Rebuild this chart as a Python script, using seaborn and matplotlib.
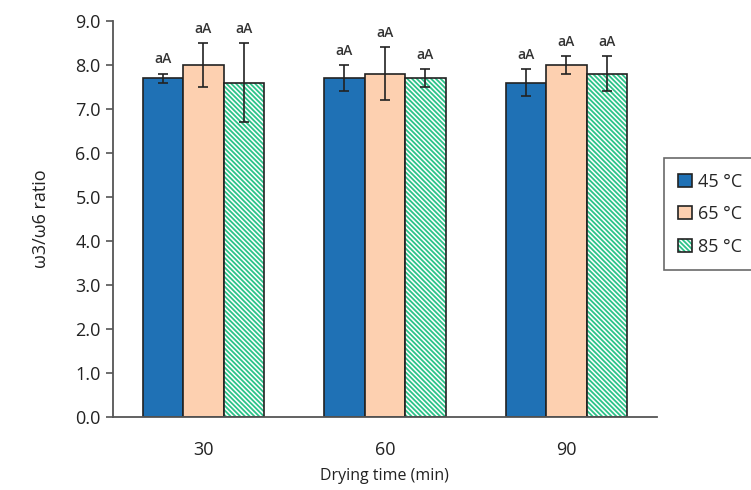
import pandas as pd
import numpy as np
import matplotlib
matplotlib.use("Agg")
import matplotlib.pyplot as plt
from matplotlib.patches import Rectangle
from matplotlib.legend_handler import HandlerTuple
from matplotlib.ticker import FormatStrFormatter
import seaborn as sns

# data
times = ["30", "60", "90"]
temps = ["45 °C", "65 °C", "85 °C"]
ratio_45 = [7.7, 7.7, 7.6]
ratio_65 = [8.0, 7.8, 8.0]
ratio_85 = [7.6, 7.7, 7.8]
sd_45 = [0.1, 0.3, 0.3]
sd_65 = [0.5, 0.6, 0.2]
sd_85 = [0.9, 0.2, 0.4]
letters = ["aA", "aA", "aA"]

data = pd.DataFrame({
    "time": times * 3,
    "temp": [temps[0]] * 3 + [temps[1]] * 3 + [temps[2]] * 3,
    "ratio": ratio_45 + ratio_65 + ratio_85,
})
sds = [sd_45, sd_65, sd_85]

sns.set_style("white")
plt.rcParams["font.family"] = ["Open Sans", "DejaVu Sans"]
plt.rcParams["hatch.linewidth"] = 1.3

fig = plt.figure(figsize=(7.51, 4.90), dpi=100)
ax = fig.add_axes([0.150, 0.149, 0.725, 0.808])

palette = {temps[0]: "#1f71b5", temps[1]: "#fdd0b0", temps[2]: "white"}
sns.barplot(data=data, x="time", y="ratio", hue="temp", order=times,
            hue_order=temps, palette=palette, width=0.67, errorbar=None,
            edgecolor="#222222", linewidth=1.2, saturation=1, ax=ax)

bar_groups = list(ax.containers)
outlines = []
for i, cont in enumerate(bar_groups):
    for j, bar in enumerate(cont):
        cx = bar.get_x() + bar.get_width() / 2
        top = bar.get_height()
        if i == 2:
            bar.set_facecolor("white")
            bar.set_edgecolor("#2cc389")
            bar.set_hatch("\\" * 7)
            bar.set_linewidth(0)
            r = Rectangle(bar.get_xy(), bar.get_width(), bar.get_height(),
                          fill=False, edgecolor="#222222", linewidth=1.2, zorder=bar.get_zorder() + 0.1)
            ax.add_patch(r)
            outlines.append(r)
        ax.errorbar(cx, top, yerr=sds[i][j], fmt="none", ecolor="#222222",
                    elinewidth=1.2, capsize=3.5, capthick=1.2, zorder=5)
        ax.text(cx, top + sds[i][j] + 0.17, letters[j], ha="center", va="bottom",
                fontsize=10, fontweight="semibold", color="#333333")

ax.set_ylim(0, 9)
ax.set_yticks(np.arange(0, 9.5, 1))
ax.yaxis.set_major_formatter(FormatStrFormatter("%.1f"))
ax.set_xlim(-0.5, 2.5)
ax.set_xticks([-0.5, 0.5, 1.5, 2.5], minor=True)
ax.tick_params(axis="x", which="major", length=0, pad=17, labelsize=13, labelcolor="#222222")
ax.tick_params(axis="x", which="minor", length=5, width=1.2, color="#555555", direction="out")
ax.tick_params(axis="y", length=5, width=1.2, color="#555555", direction="out",
               labelsize=13, labelcolor="#222222", left=True)
for s in ["top", "right"]:
    ax.spines[s].set_visible(False)
for s in ["left", "bottom"]:
    ax.spines[s].set_color("#555555")
    ax.spines[s].set_linewidth(1.3)

ax.set_xlabel("Drying time (min)", fontsize=11.5, color="#222222", labelpad=7)
ax.set_ylabel("ω3/ω6 ratio", fontsize=13, color="#222222", labelpad=18)

ax.get_legend().remove()
handles = [bar_groups[0][0], bar_groups[1][0], (bar_groups[2][0], outlines[0])]
leg = ax.legend(handles, temps, handler_map={tuple: HandlerTuple(ndivide=1)},
                loc="center left", bbox_to_anchor=(0.872, 0.563), bbox_transform=fig.transFigure,
                fontsize=13, frameon=True, fancybox=False, edgecolor="#444444",
                handlelength=0.75, handleheight=0.75, handletextpad=0.35,
                labelspacing=0.8, borderpad=0.8)
leg.get_frame().set_linewidth(1.2)

fig.savefig("out.png", dpi=100)
